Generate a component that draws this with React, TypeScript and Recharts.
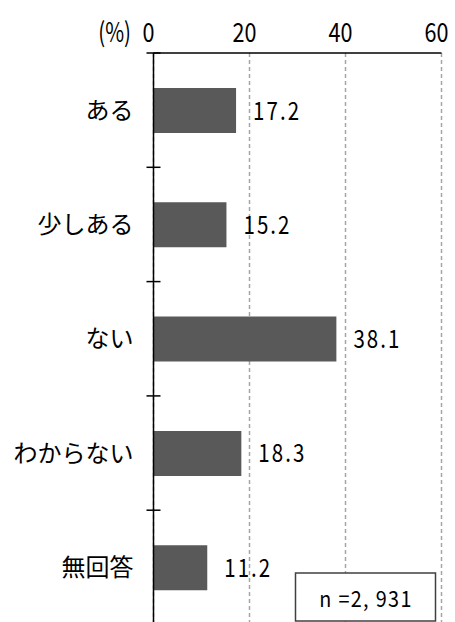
import React from "react";
import { BarChart, Bar, XAxis, YAxis, CartesianGrid, LabelList } from "recharts";

const categories = ["ある", "少しある", "ない", "わからない", "無回答"];
const percents = [17.2, 15.2, 38.1, 18.3, 11.2];
const xTicks = [0, 20, 40, 60];
const sampleNote = "n =2, 931";
const unitLabel = "(%)";

const data = categories.map((name, i) => ({ name, value: percents[i] }));

const FONT = "'Noto Sans CJK JP', sans-serif";
const AXIS_X = 153.5;

// condensed-looking text: squeeze horizontally around the anchor point
function CText({ x, y, size, sx = 0.8, anchor = "start", spacing = 0, children }: any) {
    return (
        <text
            transform={`translate(${x},${y}) scale(${sx},1)`}
            textAnchor={anchor}
            fontSize={size}
            fontFamily={FONT}
            letterSpacing={spacing}
            fill="#000"
        >
            {children}
        </text>
    );
}

function XTick(props: any) {
    const { x, payload } = props;
    return (
        <CText x={x - 5} y={42} size={27} sx={0.8} anchor="middle">
            {payload.value}
        </CText>
    );
}

function YTick(props: any) {
    const { y, payload } = props;
    const half = payload.offset ?? 57.15;
    const top = y - half;
    return (
        <g>
            <text x={AXIS_X - 20} y={y} dy={8.5} textAnchor="end" fontSize={24} fontFamily={FONT} fill="#000">
                {payload.value}
            </text>
            <line x1={AXIS_X - 7} x2={AXIS_X + 7} y1={top} y2={top} stroke="#000" strokeWidth={1.5} />
        </g>
    );
}

function ValueLabel(props: any) {
    const { x, y, width, height, value } = props;
    return (
        <CText x={x + width + 17} y={y + height / 2 + 9} size={25} sx={0.82} spacing={2.5}>
            {Number(value).toFixed(1)}
        </CText>
    );
}

export default function App() {
    return (
        <div style={{ position: "absolute", left: 0, top: 0, width: 455, height: 640, background: "#fff" }}>
            <BarChart
                width={455}
                height={640}
                data={data}
                layout="vertical"
                margin={{ top: 13, right: 13.5, bottom: 15.5, left: 0 }}
            >
                <CartesianGrid horizontal={false} stroke="#a6a6a6" strokeDasharray="4 3" strokeWidth={1.5} />
                <XAxis
                    type="number"
                    orientation="top"
                    domain={[0, 60]}
                    ticks={xTicks}
                    height={40}
                    axisLine={{ stroke: "#000", strokeWidth: 1.5 }}
                    tickLine={false}
                    tickSize={0}
                    tick={<XTick />}
                    interval={0}
                />
                <YAxis
                    type="category"
                    dataKey="name"
                    width={153.5}
                    axisLine={{ stroke: "#000", strokeWidth: 1.5 }}
                    tickLine={false}
                    tickSize={0}
                    tick={<YTick />}
                    interval={0}
                />
                <Bar dataKey="value" fill="#595959" barSize={45} isAnimationActive={false}>
                    <LabelList dataKey="value" content={<ValueLabel />} />
                </Bar>
            </BarChart>
            <svg width={455} height={640} style={{ position: "absolute", left: 0, top: 0, pointerEvents: "none" }}>
                <CText x={131} y={42} size={27} sx={0.76} anchor="end">
                    {unitLabel}
                </CText>
                <rect x={295.5} y={573} width={140} height={48} fill="#fff" stroke="#404040" strokeWidth={1.5} />
                <CText x={366} y={607} size={22} sx={0.9} anchor="middle" spacing={1.5}>
                    {sampleNote}
                </CText>
            </svg>
        </div>
    );
}
